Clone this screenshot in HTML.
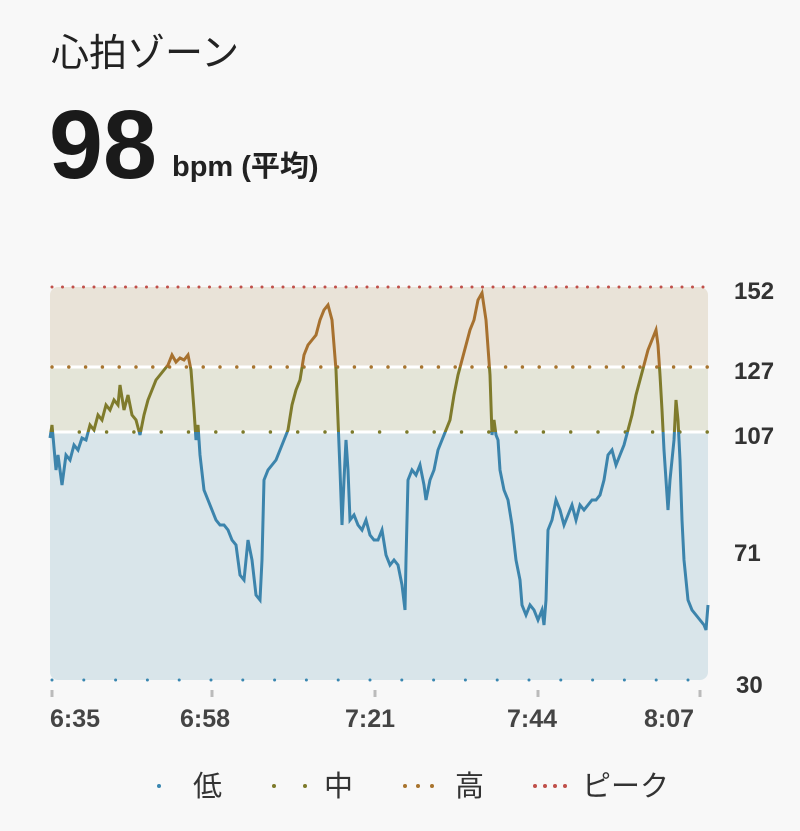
<!DOCTYPE html>
<html><head><meta charset="utf-8"><style>
html,body{margin:0;padding:0;background:#f8f8f8;}
body{width:800px;height:831px;overflow:hidden;font-family:"Liberation Sans","Noto Sans CJK JP",sans-serif;}
</style></head><body>
<svg width="800" height="831" xmlns="http://www.w3.org/2000/svg" style="position:absolute;left:0;top:0">
<defs>
<clipPath id="cb"><rect x="0" y="432" width="800" height="400"/></clipPath>
<clipPath id="cm"><rect x="0" y="367" width="800" height="65"/></clipPath>
<clipPath id="ch"><rect x="0" y="0" width="800" height="367"/></clipPath>
<clipPath id="area"><rect x="50" y="287" width="658" height="393" rx="8"/></clipPath>
</defs>
<text x="51" y="66" font-size="38" fill="#222" font-family="Liberation Sans,Noto Sans CJK JP,sans-serif">心拍ゾーン</text>
<text x="49" y="178" font-size="97" font-weight="bold" fill="#1a1a1a">98</text>
<text x="172" y="176" font-size="29" font-weight="bold" fill="#222" font-family="Liberation Sans,Noto Sans CJK JP,sans-serif">bpm (平均)</text>
<g clip-path="url(#area)">
<rect x="50" y="287" width="658" height="80" fill="#e9e3d8"/>
<rect x="50" y="367" width="658" height="65" fill="#e4e5d8"/>
<rect x="50" y="432" width="658" height="260" fill="#d9e5ea"/>
</g>
<line x1="50" y1="367" x2="708" y2="367" stroke="#fff" stroke-width="3"/>
<line x1="50" y1="432" x2="708" y2="432" stroke="#fff" stroke-width="3"/>
<line x1="52" y1="287" x2="708" y2="287" stroke="#c0504a" stroke-width="3" stroke-linecap="round" stroke-dasharray="0 10.5"/>
<line x1="52" y1="367" x2="708" y2="367" stroke="#a8742e" stroke-width="3.5" stroke-linecap="round" stroke-dasharray="0 16.8"/>
<line x1="52" y1="432" x2="708" y2="432" stroke="#7d7a2a" stroke-width="3.5" stroke-linecap="round" stroke-dasharray="0 27.3"/>
<line x1="52" y1="680" x2="708" y2="680" stroke="#3a87b0" stroke-width="3" stroke-linecap="round" stroke-dasharray="0 31.8"/>
<g fill="none" stroke-width="3" stroke-linejoin="round">
<polyline id="pl" points="50,438 52,425 56,470 58,455 62,485 66,455 70,460 74,445 78,450 82,438 86,440 90,425 94,430 98,415 102,420 106,405 110,410 114,400 118,405 120,385 124,410 128,395 132,415 136,420 140,435 144,415 148,400 152,390 156,380 160,375 164,370 168,365 172,355 176,362 180,358 184,360 188,355 191,370 194,410 196,440 198,425 200,455 204,490 208,500 212,510 216,520 220,525 224,525 228,530 232,540 236,545 240,575 244,580 248,540 252,560 256,595 260,600 262,560 264,480 268,470 272,465 276,460 280,450 284,440 288,430 292,405 296,390 300,380 304,355 308,345 312,340 316,335 320,320 324,310 328,305 332,320 336,370 338,420 340,470 342,525 344,480 346,440 348,470 350,520 354,515 358,525 362,530 366,520 370,535 374,540 378,540 382,530 386,555 390,565 394,560 398,565 402,585 405,610 406,560 408,480 412,470 416,475 420,465 424,485 426,500 430,480 434,470 438,450 442,440 446,430 450,420 454,395 458,375 462,360 466,345 470,330 474,320 478,300 482,293 486,320 490,375 492,435 494,420 496,435 498,440 500,470 504,490 508,500 512,525 516,560 520,580 522,605 526,615 530,605 534,610 538,620 542,610 544,625 546,600 548,530 552,520 556,500 560,510 564,525 568,515 572,505 576,520 580,505 584,510 588,505 592,500 596,500 600,495 604,480 608,455 612,450 616,465 620,455 624,445 628,430 632,415 636,395 640,380 644,365 648,350 652,340 656,330 658,345 660,375 662,410 664,450 668,510 670,480 674,440 676,400 678,420 680,460 682,520 684,560 688,600 692,610 696,615 700,620 704,625 706,630 708,605"/>
</g>
<use href="#pl" stroke="#3c84ac" stroke-width="3" fill="none" clip-path="url(#cb)"/>
<use href="#pl" stroke="#7f7b2c" stroke-width="3" fill="none" clip-path="url(#cm)"/>
<use href="#pl" stroke="#a7712f" stroke-width="3" fill="none" clip-path="url(#ch)"/>
<g font-size="24" font-weight="bold" fill="#333">
<text x="734" y="299">152</text><text x="734" y="379">127</text><text x="734" y="444">107</text><text x="734" y="561">71</text><text x="736" y="693">30</text>
</g>
<g stroke="#bbb" stroke-width="3">
<line x1="52" y1="690" x2="52" y2="697"/><line x1="212" y1="690" x2="212" y2="697"/><line x1="375" y1="690" x2="375" y2="697"/><line x1="538" y1="690" x2="538" y2="697"/><line x1="700" y1="690" x2="700" y2="697"/>
</g>
<g font-size="25" font-weight="bold" fill="#444">
<text x="50" y="727">6:35</text><text x="180" y="727">6:58</text><text x="345" y="727">7:21</text><text x="507" y="727">7:44</text><text x="644" y="727">8:07</text>
</g>
<g font-size="29" fill="#333" font-family="Liberation Sans,Noto Sans CJK JP,sans-serif">
<circle cx="159" cy="786" r="2" fill="#3a87b0"/><text x="193" y="796">低</text>
<circle cx="274" cy="786" r="2" fill="#7d7a2a"/><circle cx="305" cy="786" r="2" fill="#7d7a2a"/><text x="324" y="796">中</text>
<circle cx="405" cy="786" r="2" fill="#a8742e"/><circle cx="418" cy="786" r="2" fill="#a8742e"/><circle cx="432" cy="786" r="2" fill="#a8742e"/><text x="455" y="796">高</text>
<circle cx="535" cy="786" r="2" fill="#c0504a"/><circle cx="545" cy="786" r="2" fill="#c0504a"/><circle cx="555" cy="786" r="2" fill="#c0504a"/><circle cx="565" cy="786" r="2" fill="#c0504a"/><text x="582" y="796">ピーク</text>
</g>
</svg>
</body></html>
